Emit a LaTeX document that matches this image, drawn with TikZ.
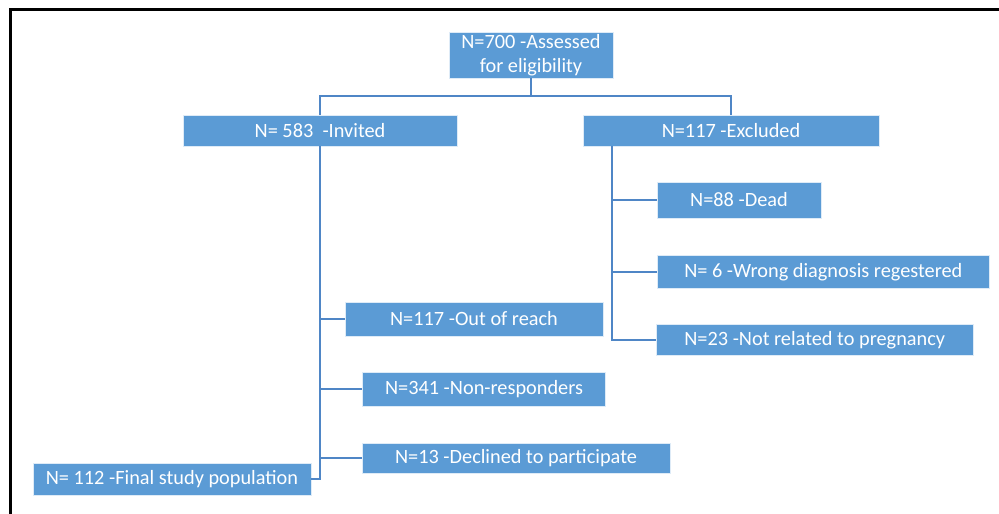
\documentclass[tikz,border=0pt]{standalone}
\usepackage{fontspec}
\setmainfont{Carlito}
\definecolor{boxblue}{HTML}{5B9BD5}
\definecolor{lineblue}{HTML}{4F86C6}
\begin{document}
\begin{tikzpicture}[x=1pt,y=-1pt,
  box/.style={rectangle,fill=boxblue,draw=white!80!boxblue,line width=0.8pt,text=white,inner sep=0pt,
    font=\fontsize{20.3}{23.5}\selectfont,align=center},
  conn/.style={draw=lineblue,line width=2pt}]
\useasboundingbox (0,0) rectangle (999,514);
\draw[line width=3pt] (10,514) -- (10,9) -- (999,9);
\node[box,minimum width=164pt,minimum height=46pt] (top) at (531,55) {N=700 -Assessed\\for eligibility};
\node[box,minimum width=274pt,minimum height=31pt] (inv) at (320,130.5) {N= 583~ -Invited};
\node[box,minimum width=296pt,minimum height=31pt] (exc) at (731,130.5) {N=117 -Excluded};
\node[box,minimum width=258pt,minimum height=34pt] (out) at (474,319) {N=117 -Out of reach};
\node[box,minimum width=243pt,minimum height=34pt] (non) at (484,389) {N=341 -Non-responders};
\node[box,minimum width=308pt,minimum height=30pt] (dec) at (516,458.3) {N=13 -Declined to participate};
\node[box,minimum width=278pt,minimum height=32pt] (fin) at (172,479) {N= 112 -Final study population};
\node[box,minimum width=164pt,minimum height=36pt] (dead) at (739,200) {N=88 -Dead};
\node[box,minimum width=332pt,minimum height=33pt] (wrong) at (823.3,271.7) {N= 6 -Wrong diagnosis regestered};
\node[box,minimum width=317pt,minimum height=31pt] (notrel) at (814.7,339.7) {N=23 -Not related to pregnancy};
\coordinate (j) at (531,96);
\coordinate (et) at (612,146);
\draw[conn] (top.south) -- (j);
\draw[conn] (inv.north) |- (j) -| (exc.north);
\draw[conn] (inv.south) |- (fin.east);
\draw[conn] (inv.south |- out.west) -- (out.west);
\draw[conn] (inv.south |- non.west) -- (non.west);
\draw[conn] (inv.south |- dec.west) -- (dec.west);
\draw[conn] (et) |- (notrel.west);
\draw[conn] (et |- dead.west) -- (dead.west);
\draw[conn] (et |- wrong.west) -- (wrong.west);
\end{tikzpicture}
\end{document}
